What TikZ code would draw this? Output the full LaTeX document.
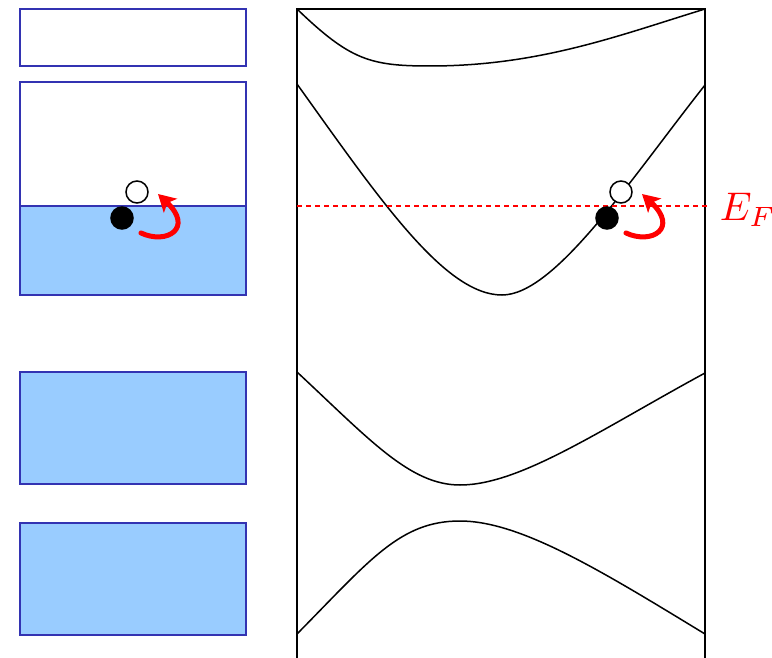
\documentclass[tikz,border=0pt]{standalone}
\usepackage{amsmath,amssymb}
\usepackage{xcolor}
\usepackage{tikz}
\usetikzlibrary{arrows.meta,calc}
\definecolor{bandedge}{RGB}{51,51,178}
\definecolor{bandfill}{RGB}{153,204,255}
\tikzset{
  level/.style={
    draw = bandedge,
    line width = 2pt,
  },
  fulllevel/.style={
    level,
    fill = bandfill,
  },
  band/.style={
    line width = 1.5pt,
  },
  fermi/.style={
   draw = red,
   line width = 1.2pt,
   dash pattern = on 5pt off 4pt,
  },
  electron/.style={
    inner sep = 0,
    minimum size = 22pt,
    shape = circle,
    draw,
    line width = 1.5pt,
    fill
  },
  hole/.style={
    electron,
    fill = white
  },
  excite/.style={
    draw = red,
    line width = 5pt,
    line cap = round,
    -{Stealth[length=17pt,width=19pt,inset=4pt]}
  }
}

\begin{document}
\begin{tikzpicture}[x=1pt,y=-1pt]
        \useasboundingbox (0,0) rectangle (772,658);
        % levels of the isolated atoms
        \draw[level] (20,9) rectangle (246,66);
        \fill[bandfill] (20,206) rectangle (246,295);
        \draw[level] (20,82) rectangle (246,295);
        \draw[level] (20,206) -- (246,206);
        \draw[fulllevel] (20,372) rectangle (246,484);
        \draw[fulllevel] (20,523) rectangle (246,635);
        % bands
        \draw[band] (297,658) -- (297,9) -- (705,9) -- (705,658);
        \draw[band] (297,9) .. controls (350,60) and (370,66) .. (430,66)
          .. controls (540,66) and (620,35) .. (705,9);
        \draw[band] (297,84) .. controls (380,200) and (445,295) .. (502,295)
          .. controls (555,295) and (630,180) .. (705,85);
        \draw[band] (297,372) .. controls (370,440) and (410,485) .. (460,485)
          .. controls (520,485) and (600,430) .. (705,373);
        \draw[band] (297,634) .. controls (370,560) and (400,521) .. (460,521)
          .. controls (520,521) and (600,570) .. (705,634);
        % Fermi level
        \draw[fermi] (297,206) -- (710,206);
        \node[anchor=west, text=red, scale=4, inner sep=0] (ef) at (719,210) {$E_F$};
        % excitations
        \node[electron] (occL) at (122,218) {};
        \node[hole] (empL) at (137,192) {};
        \draw[excite] ($(occL)+(19,15)$) .. controls ($(occL)+(45,27)$) and ($(occL)+(72,10)$) .. ($(empL)+(21,2)$);
        \node[electron] (occR) at (607,218) {};
        \node[hole] (empR) at (621,192) {};
        \draw[excite] ($(occR)+(19,15)$) .. controls ($(occR)+(45,27)$) and ($(occR)+(72,10)$) .. ($(empR)+(21,2)$);
    \end{tikzpicture}
\end{document}
